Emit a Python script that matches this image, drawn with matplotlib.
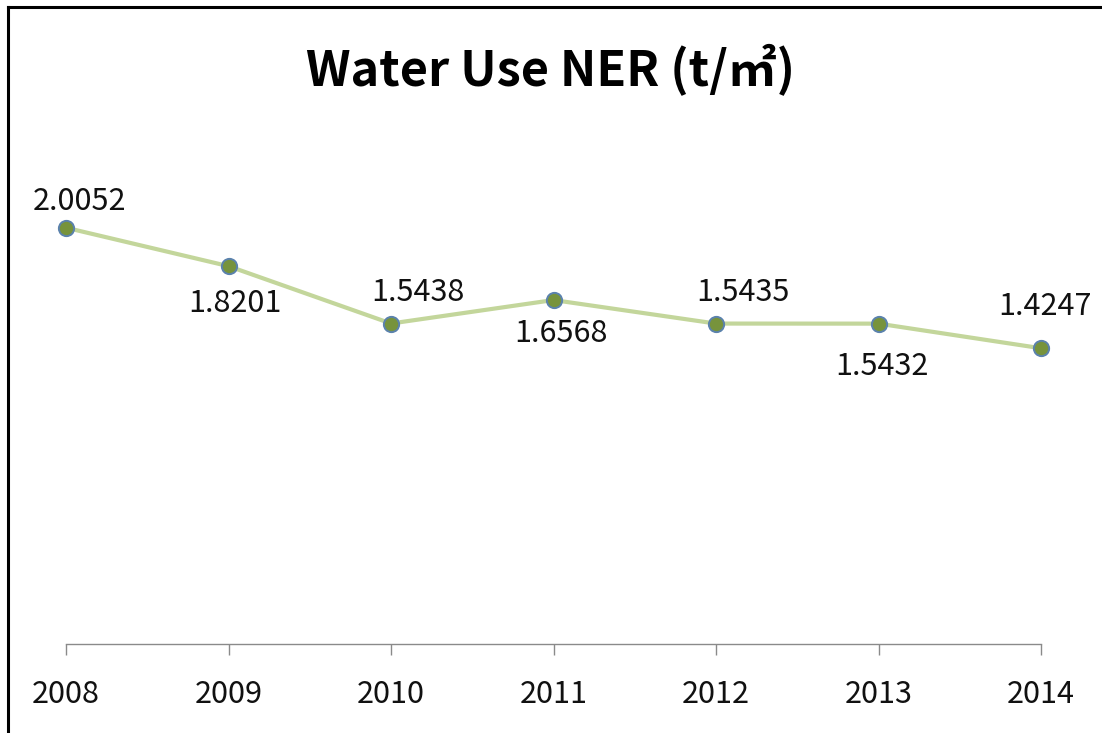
import matplotlib.pyplot as plt
from matplotlib.lines import Line2D

plt.rcParams['font.family'] = ['Noto Sans CJK KR', 'DejaVu Sans']

years = ['2008', '2009', '2010', '2011', '2012', '2013', '2014']
ner = [2.0052, 1.8201, 1.5438, 1.6568, 1.5435, 1.5432, 1.4247]
# label offsets in pixels (dx, dy)
label_offsets = [(14, 26), (6, -37), (27, 31), (7, -33), (27, 31), (3, -43), (4, 42)]

W, H = 1102, 733
fig = plt.figure(figsize=(W / 100, H / 100), dpi=100)
fig.patch.set_facecolor('white')

x0, x1 = 66, 1041
y_axis, y_top = 644, 125
ax = fig.add_axes([x0 / W, (H - y_axis) / H, (x1 - x0) / W, (y_axis - y_top) / H])

xs = list(range(len(years)))
ax.plot(xs, ner, color='#c3d69b', linewidth=3.0, zorder=2, clip_on=False)
ax.plot(xs, ner, linestyle='none', marker='o', markersize=11,
        markerfacecolor='#77933c', markeredgecolor='#5b82ad', markeredgewidth=1.4,
        zorder=3, clip_on=False)

for x, v, (dx, dy) in zip(xs, ner, label_offsets):
    ax.annotate(f'{v:.4f}', (x, v), xytext=(dx, dy), textcoords='offset pixels',
                ha='center', va='center', fontsize=22, color='#111111')

ax.set_xlim(0, len(years) - 1)
ax.set_ylim(0, 2.5)
ax.set_xticks(xs)
ax.set_xticklabels(years, fontsize=22, color='#111111')
ax.set_yticks([])
for s in ['top', 'right', 'left']:
    ax.spines[s].set_visible(False)
ax.spines['bottom'].set_color('#8a8a8a')
ax.spines['bottom'].set_linewidth(1.0)
ax.tick_params(axis='x', direction='out', length=8, width=1.0, color='#8a8a8a', pad=17)
ax.set_facecolor('none')

fig.text(0.5, 1 - 70 / H, 'Water Use NER (t/㎡)', ha='center', va='center',
         fontsize=35, fontweight='bold', color='black')

# outer frame (left and top edges)
fig.add_artist(Line2D([8 / W, 8 / W], [0, 1 - 7 / H], color='black', linewidth=2.2,
                      transform=fig.transFigure))
fig.add_artist(Line2D([8 / W, 1], [1 - 7 / H, 1 - 7 / H], color='black', linewidth=2.2,
                      transform=fig.transFigure))

fig.savefig('out.png', dpi=100, facecolor='white')
